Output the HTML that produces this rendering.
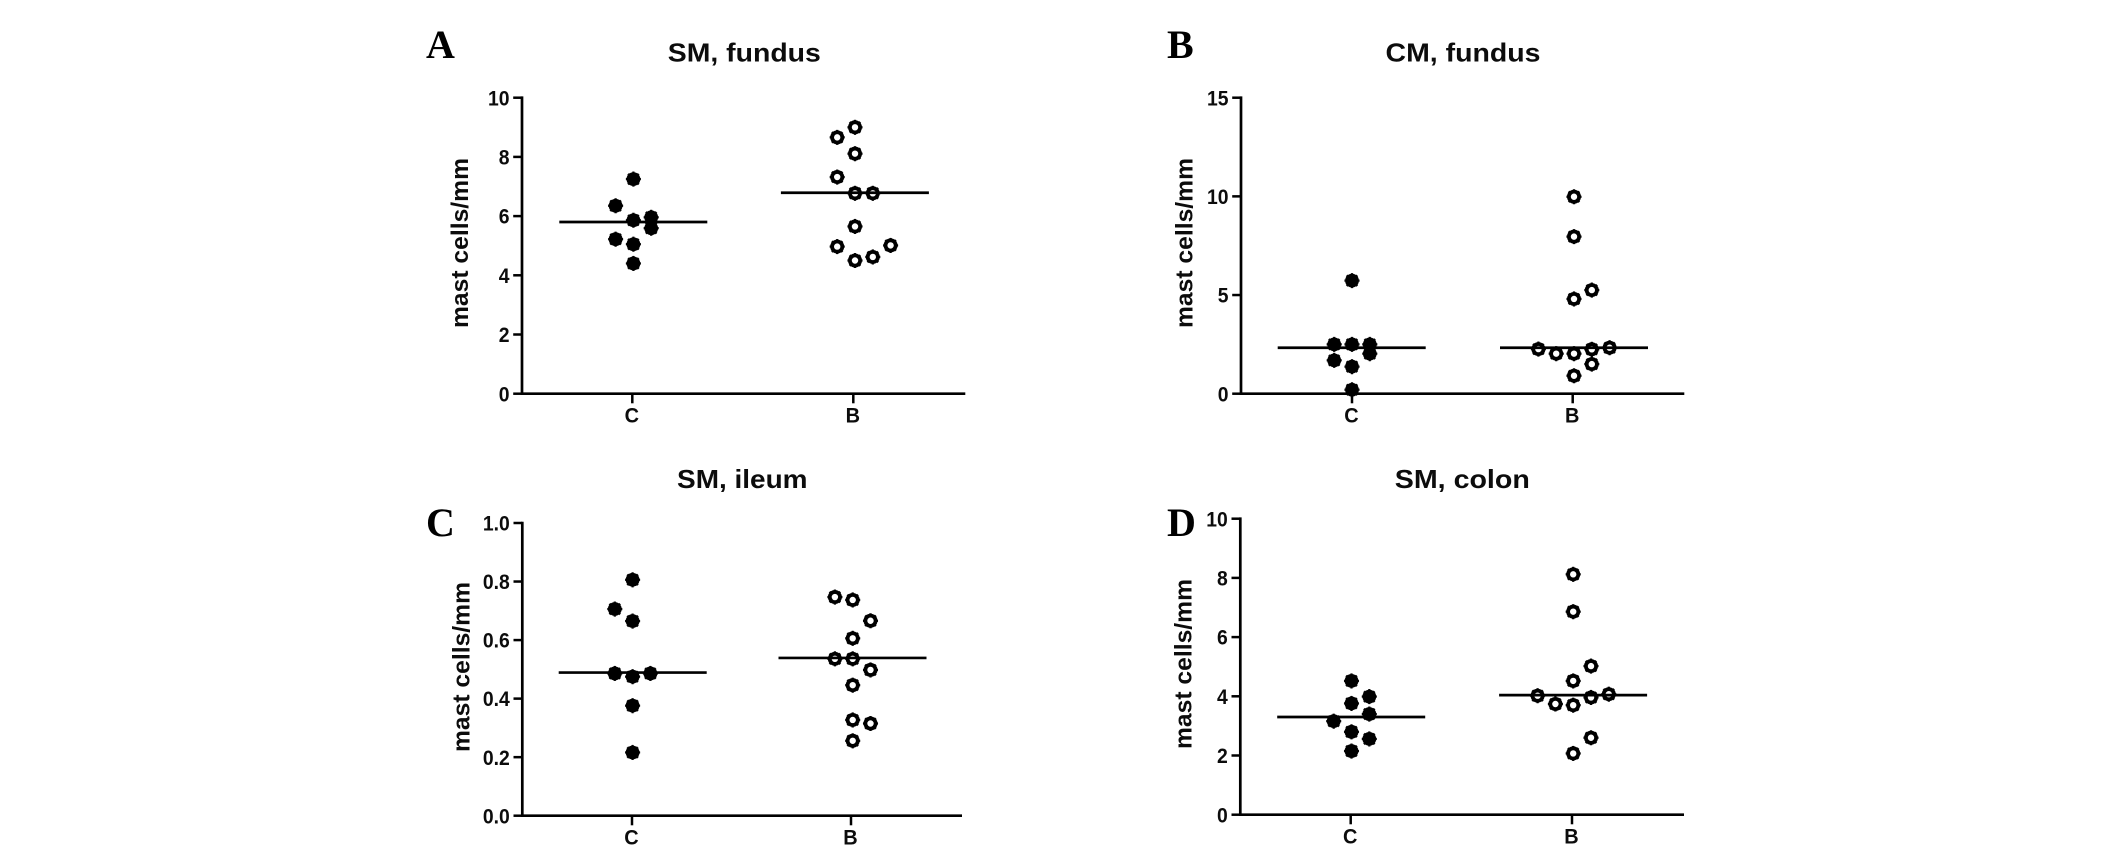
<!DOCTYPE html>
<html lang="en">
<head>
<meta charset="utf-8">
<title>Mast cell counts</title>
<style>
html,body{margin:0;padding:0;background:#fff;width:2126px;height:852px;overflow:hidden}
svg{display:block;position:absolute;left:0;top:0}
text{fill:#0c0c0c;font-family:"Liberation Sans",sans-serif;font-weight:bold}
</style>
</head>
<body>
<svg id="figure" width="2126" height="852" viewBox="0 0 2126 852" xmlns="http://www.w3.org/2000/svg"></svg>
<script>
// Categories and tick labels
const categories = ['C', 'B'];
const ticksA = [0, 2, 4, 6, 8, 10];
const ticksB = [0, 5, 10, 15];
const ticksC = [0, 0.2, 0.4, 0.6, 0.8, 1.0];
const ticksD = [0, 2, 4, 6, 8, 10];

// Panel A: SM, fundus
const valuesAC = [7.25, 6.35, 5.86, 5.96, 5.59, 5.22, 5.05, 4.40];
const slotsAC = [0, -1, 0, 1, 1, -1, 0, 0];
const valuesAB = [9.0, 8.66, 8.11, 7.32, 6.77, 6.77, 5.65, 4.97, 5.01, 4.5, 4.62];
const slotsAB = [0, -1, 0, -1, 0, 1, 0, -1, 2, 0, 1];
const mediansA = [5.8, 6.79];

// Panel B: CM, fundus
const valuesBC = [5.73, 2.5, 2.5, 2.5, 2.03, 1.69, 1.37, 0.2];
const slotsBC = [0, -1, 0, 1, 1, -1, 0, 0];
const valuesBB = [9.98, 7.96, 5.25, 4.8, 2.26, 2.03, 2.03, 2.25, 2.33, 1.5, 0.91];
const slotsBB = [0, 0, 1, 0, -2, -1, 0, 1, 2, 1, 0];
const mediansB = [2.33, 2.33];

// Panel C: SM, ileum
const valuesCC = [0.806, 0.706, 0.665, 0.486, 0.475, 0.486, 0.376, 0.216];
const slotsCC = [0, -1, 0, -1, 0, 1, 0, 0];
const valuesCB = [0.747, 0.737, 0.666, 0.606, 0.536, 0.536, 0.498, 0.446, 0.327, 0.315, 0.256];
const slotsCB = [-1, 0, 1, 0, -1, 0, 1, 0, 0, 1, 0];
const mediansC = [0.489, 0.539];

// Panel D: SM, colon
const valuesDC = [4.52, 3.99, 3.76, 3.4, 3.16, 2.8, 2.56, 2.15];
const slotsDC = [0, 1, 0, 1, -1, 0, 1, 0];
const valuesDB = [8.12, 6.86, 5.02, 4.52, 4.02, 3.74, 3.7, 3.96, 4.07, 2.6, 2.07];
const slotsDB = [0, 0, 1, 0, -2, -1, 0, 1, 2, 1, 0];
const mediansD = [3.3, 4.04];

const NS = 'http://www.w3.org/2000/svg';
const svg = document.getElementById('figure');

function make(tag, attrs, parent) {
  const el = document.createElementNS(NS, tag);
  for (const k in attrs) el.setAttribute(k, attrs[k]);
  parent.appendChild(el);
  return el;
}

function drawPanel(p) {
  const yScale = v => p.y0 + (p.yTop - p.y0) * (v - p.ticks[0]) / (p.ticks[p.ticks.length - 1] - p.ticks[0]);
  const xScale = (catIndex, slot) => p.pointX[catIndex] + slot * 17.8;

  const g = make('g', {}, svg);
  
  

  const letter = make('text', {x: p.letterX, y: p.letterY, 'font-size': 40, style: 'font-family:"Liberation Serif",serif;fill:#000'}, g);
  letter.textContent = p.letter;
  
  

  const title = make('text', {x: p.titleX, y: p.titleY, 'font-size': 26, 'text-anchor': 'middle', textLength: p.titleLen, lengthAdjust: 'spacingAndGlyphs'}, g);
  title.textContent = p.title;
  
  

  const yLabel = make('text', {transform: 'translate(' + p.yLabelX + ',' + p.yLabelY + ') rotate(-90)', 'font-size': 24, 'text-anchor': 'middle', textLength: 170, lengthAdjust: 'spacingAndGlyphs'}, g);
  yLabel.textContent = 'mast cells/mm';
  
  

  const axisY = make('line', {x1: p.axisX, x2: p.axisX, y1: p.yTop - 1.3, y2: p.y0 + 1.3, stroke: '#000', 'stroke-width': 2.7}, g);
  
  

  const axisX = make('line', {x1: p.axisX, x2: p.xEnd, y1: p.y0, y2: p.y0, stroke: '#000', 'stroke-width': 2.7}, g);
  
  

  p.ticks.forEach(t => {
    const y = yScale(t);
    const tick = make('line', {x1: p.axisX - 8.8, x2: p.axisX, y1: y, y2: y, stroke: '#000', 'stroke-width': 2.5}, g);
    
    
    const label = make('text', {transform: 'translate(' + (p.axisX - 12.5) + ',' + (y + 7.6) + ') scale(.9,1)', 'font-size': 21.5, 'text-anchor': 'end'}, g);
    label.textContent = p.decimals ? t.toFixed(p.decimals) : String(t);
    
    
  });

  categories.forEach((cat, ci) => {
    const tx = p.catX[ci];
    const tick = make('line', {x1: tx, x2: tx, y1: p.y0, y2: p.y0 + 9.6, stroke: '#000', 'stroke-width': 2.5}, g);
    
    
    const label = make('text', {transform: 'translate(' + (tx - 0.5) + ',' + (p.y0 + 28.8) + ') scale(.95,1)', 'font-size': 21, 'text-anchor': 'middle'}, g);
    label.textContent = cat;
    
    

    const values = p.series[ci];
    const slots = p.slots[ci];
    values.forEach((v, i) => {
      const cx = xScale(ci, slots[i]);
      const cy = yScale(v);
      const point = make('g', {}, g);
      
      
      const attrs = ci === 0
        ? {cx: cx, cy: cy, r: 6.9, fill: '#000'}
        : {cx: cx, cy: cy, r: 5.1, fill: 'none', stroke: '#000', 'stroke-width': 3.8};
      make('circle', attrs, point);
      make('circle', {cx: cx, cy: cy, r: 7.1, fill: 'none', stroke: '#000', 'stroke-width': 0.9, pathLength: 8, 'stroke-dasharray': '.42 .58', 'stroke-dashoffset': '.21'}, point);
    });

    const my = yScale(p.medians[ci]);
    const median = make('line', {x1: p.medX[ci] - 74, x2: p.medX[ci] + 74, y1: my, y2: my, stroke: '#000', 'stroke-width': 2.7}, g);
    
    
  });
}

drawPanel({id: 'a', letter: 'A', title: 'SM, fundus', titleLen: 153, ticks: ticksA, decimals: 0,
  axisX: 522, xEnd: 965.3, yTop: 97.7, y0: 393.7, catX: [632.3, 853.3], pointX: [633.4, 855], medX: [633.3, 854.9],
  letterX: 426, letterY: 58, titleX: 744.3, titleY: 61.5, yLabelX: 468, yLabelY: 243,
  series: [valuesAC, valuesAB], slots: [slotsAC, slotsAB], medians: mediansA});
drawPanel({id: 'b', letter: 'B', title: 'CM, fundus', titleLen: 155, ticks: ticksB, decimals: 0,
  axisX: 1241, xEnd: 1684.3, yTop: 97.7, y0: 393.7, catX: [1352, 1572.7], pointX: [1352, 1574], medX: [1351.7, 1574],
  letterX: 1167, letterY: 58, titleX: 1463, titleY: 61.5, yLabelX: 1192.3, yLabelY: 243,
  series: [valuesBC, valuesBB], slots: [slotsBC, slotsBB], medians: mediansB});
drawPanel({id: 'c', letter: 'C', title: 'SM, ileum', titleLen: 130.5, ticks: ticksC, decimals: 1,
  axisX: 522.3, xEnd: 962, yTop: 523, y0: 815.7, catX: [632, 851], pointX: [632.6, 852.7], medX: [632.7, 852.5],
  letterX: 426, letterY: 536, titleX: 742.3, titleY: 488, yLabelX: 469.5, yLabelY: 667,
  series: [valuesCC, valuesCB], slots: [slotsCC, slotsCB], medians: mediansC});
drawPanel({id: 'd', letter: 'D', title: 'SM, colon', titleLen: 135, ticks: ticksD, decimals: 0,
  axisX: 1240.3, xEnd: 1684, yTop: 518.7, y0: 814.7, catX: [1350.7, 1572], pointX: [1351.5, 1573.2], medX: [1351.2, 1573.1],
  letterX: 1167, letterY: 536, titleX: 1462.3, titleY: 488, yLabelX: 1191.5, yLabelY: 664,
  series: [valuesDC, valuesDB], slots: [slotsDC, slotsDB], medians: mediansD});
</script>
</body>
</html>
